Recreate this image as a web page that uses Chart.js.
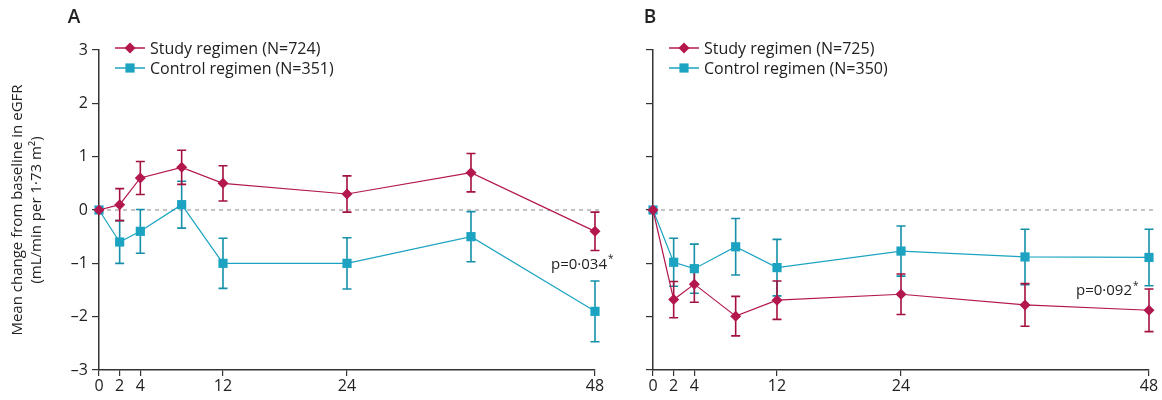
<!DOCTYPE html>
<html>
<head>
<meta charset="utf-8">
<script src="https://cdn.jsdelivr.net/npm/chart.js@4.4.1/dist/chart.umd.min.js"></script>
<style>
  body { margin: 0; background: #fff; }
  .row { display: flex; width: 1162px; height: 400px; }
  .panel { position: relative; height: 400px; }
</style>
</head>
<body>
<div class="row">
  <div class="panel" style="width:620px"><canvas id="chartA"></canvas></div>
  <div class="panel" style="width:542px"><canvas id="chartB"></canvas></div>
</div>
<script>
// Datos (semanas y cambio medio en eGFR)
const weeks = [0, 2, 4, 8, 12, 24, 36, 48];
const xTicks = [0, 2, 4, 12, 24, 48];
const yTicks = [-3, -2, -1, 0, 1, 2, 3];

const studyA = [0, 0.1, 0.6, 0.8, 0.5, 0.3, 0.7, -0.4];
const studyAErr = [0, 0.3, 0.31, 0.32, 0.33, 0.34, 0.36, 0.36];
const controlA = [0, -0.6, -0.4, 0.1, -1.0, -1.0, -0.5, -1.9];
const controlAErr = [0, 0.4, 0.41, 0.44, 0.47, 0.48, 0.47, 0.57];

const studyB = [0, -1.68, -1.39, -1.99, -1.69, -1.58, -1.78, -1.88];
const studyBErr = [0, 0.34, 0.34, 0.37, 0.36, 0.38, 0.4, 0.4];
const controlB = [0, -0.98, -1.1, -0.69, -1.08, -0.77, -0.88, -0.89];
const controlBErr = [0, 0.45, 0.46, 0.53, 0.53, 0.47, 0.52, 0.53];

const legendA = ['Study regimen (N=724)', 'Control regimen (N=351)'];
const legendB = ['Study regimen (N=725)', 'Control regimen (N=350)'];

const studyColor = '#b3174e';
const controlColor = '#1ba3c1';
const axisColor = '#333333';
const fontFamily = '"Open Sans", "Noto Sans", sans-serif';

// Dibuja barras de error, línea de cero, leyenda y textos
const extrasPlugin = {
    id: 'extras',
    beforeDatasetsDraw(chart) {
        const ctx = chart.ctx;
        const area = chart.chartArea;
        const x = chart.scales.x;
        const y = chart.scales.y;
        const y0 = y.getPixelForValue(0);

        ctx.save();
        ctx.strokeStyle = '#8a8a8a';
        ctx.lineWidth = 1;
        ctx.setLineDash([4, 4]);
        ctx.beginPath();
        ctx.moveTo(area.left, y0);
        ctx.lineTo(area.right + 8, y0);
        ctx.stroke();
        ctx.setLineDash([]);

        for (let d = chart.data.datasets.length - 1; d >= 0; d--) {
            const ds = chart.data.datasets[d];
            ctx.strokeStyle = ds.errColor;
            ctx.lineWidth = 1.6;
            ds.data.forEach((p, i) => {
                const e = ds.err[i];
                if (!e) return;
                const px = x.getPixelForValue(p.x);
                const top = y.getPixelForValue(p.y + e);
                const bot = y.getPixelForValue(p.y - e);
                ctx.beginPath();
                ctx.moveTo(px, top);
                ctx.lineTo(px, bot);
                ctx.moveTo(px - 4.5, top);
                ctx.lineTo(px + 4.5, top);
                ctx.moveTo(px - 4.5, bot);
                ctx.lineTo(px + 4.5, bot);
                ctx.stroke();
            });
        }
        ctx.restore();
    },
    afterDraw(chart, args, opts) {
        const ctx = chart.ctx;
        const area = chart.chartArea;
        const x = chart.scales.x;
        const y = chart.scales.y;

        ctx.save();
        // Letra del panel
        ctx.fillStyle = '#222';
        ctx.font = '600 19px ' + fontFamily;
        ctx.textAlign = 'center';
        ctx.textBaseline = 'middle';
        ctx.fillText(opts.label, opts.labelX, 18);

        // Leyenda
        ctx.font = '16px ' + fontFamily;
        ctx.textAlign = 'left';
        chart.data.datasets.forEach((ds, i) => {
            const ly = area.top - 2 + i * 20;
            const lx = area.left + 16;
            ctx.strokeStyle = ds.borderColor;
            ctx.lineWidth = 1.5;
            ctx.beginPath();
            ctx.moveTo(lx, ly);
            ctx.lineTo(lx + 30, ly);
            ctx.stroke();
            ctx.fillStyle = ds.borderColor;
            Chart.helpers.drawPoint(ctx, {
                pointStyle: ds.pointStyle, radius: ds.pointRadius, rotation: 0, borderWidth: 0
            }, lx + 15, ly);
            ctx.fillStyle = '#222';
            ctx.fillText(ds.label, lx + 35, ly + 1);
        });

        // Valor p
        const px = x.getPixelForValue(48) + opts.pDx;
        const py = y.getPixelForValue(opts.pY);
        ctx.font = '15px ' + fontFamily;
        ctx.textAlign = 'right';
        ctx.fillStyle = '#222';
        ctx.fillText(opts.pText, px - 6, py);
        ctx.font = '10px ' + fontFamily;
        ctx.textAlign = 'left';
        ctx.fillText('*', px - 5, py - 5);
        ctx.restore();
    }
};

function makeDataset(label, values, errs, color, errColor, style, radius) {
    return {
        label: label,
        data: weeks.map((w, i) => ({ x: w, y: values[i] })),
        err: errs,
        errColor: errColor,
        borderColor: color,
        backgroundColor: color,
        borderWidth: 1.2,
        pointStyle: style,
        pointRadius: radius,
        pointHoverRadius: radius,
        pointBorderWidth: 0,
        tension: 0,
        clip: false
    };
}

function createPanel(canvasId, study, studyErr, control, controlErr, names, cfg) {
    const ctx = document.getElementById(canvasId);
    const tickFont = { family: fontFamily, size: 16 };

    return new Chart(ctx, {
        type: 'line',
        data: {
            datasets: [
                makeDataset(names[0], study, studyErr, studyColor, '#a3123f', 'rectRot', 5.5),
                makeDataset(names[1], control, controlErr, controlColor, '#1690aa', 'rect', 6.5)
            ]
        },
        plugins: [extrasPlugin],
        options: {
            responsive: true,
            maintainAspectRatio: false,
            animation: false,
            events: [],
            layout: { padding: { top: 50, right: cfg.padRight, bottom: 0, left: 0 } },
            plugins: {
                legend: { display: false },
                tooltip: { enabled: false },
                extras: {
                    label: cfg.label,
                    labelX: cfg.labelX,
                    pText: cfg.pText,
                    pDx: cfg.pDx,
                    pY: cfg.pY
                }
            },
            scales: {
                x: {
                    type: 'linear',
                    min: 0,
                    max: 48,
                    afterBuildTicks: s => { s.ticks = xTicks.map(v => ({ value: v })); },
                    afterFit: s => { s.height = 30; },
                    grid: { drawOnChartArea: false, tickLength: 6, color: axisColor, lineWidth: 1.2 },
                    border: { display: true, color: axisColor, width: 1.5 },
                    ticks: { autoSkip: false, maxRotation: 0, padding: 1, color: '#222', font: tickFont }
                },
                y: {
                    min: -3,
                    max: 3,
                    afterBuildTicks: s => { s.ticks = yTicks.map(v => ({ value: v })); },
                    afterFit: s => { s.width = cfg.yWidth; },
                    grid: { drawOnChartArea: false, tickLength: 7, color: axisColor, lineWidth: 1.2 },
                    border: { display: true, color: axisColor, width: 1.5 },
                    ticks: {
                        display: cfg.showYLabels,
                        padding: 4,
                        color: '#222',
                        font: tickFont,
                        callback: v => v < 0 ? '–' + Math.abs(v) : String(v)
                    },
                    title: {
                        display: cfg.showYLabels,
                        text: ['Mean change from baseline in eGFR', '(mL/min per 1·73 m²)'],
                        color: '#222',
                        font: { family: fontFamily, size: 15, lineHeight: 1.27 },
                        padding: { top: 8, bottom: 0 }
                    }
                }
            }
        }
    });
}

document.addEventListener('DOMContentLoaded', function() {
    createPanel('chartA', studyA, studyAErr, controlA, controlAErr, legendA, {
        label: 'A', labelX: 74, padRight: 25, yWidth: 99, showYLabels: true,
        pText: 'p=0·034', pDx: 18, pY: -1.02
    });
    createPanel('chartB', studyB, studyBErr, controlB, controlBErr, legendB, {
        label: 'B', labelX: 30, padRight: 13, yWidth: 33, showYLabels: false,
        pText: 'p=0·092', pDx: -11, pY: -1.52
    });
});
</script>
</body>
</html>
